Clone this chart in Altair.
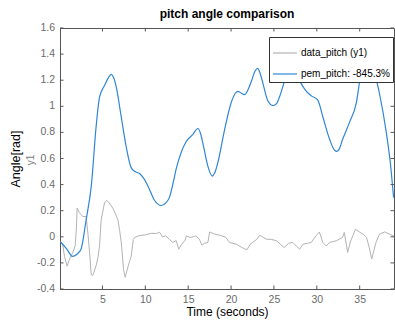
import altair as alt
import pandas as pd

# Measured pitch (gray) and model output (blue), time in seconds, angle in rad
data_t = [0.1, 0.35, 0.57, 0.88, 1.16, 1.54, 1.82, 1.95, 2.05, 2.32, 2.5, 2.7, 3.1, 3.3, 3.5,
          3.69, 3.88, 4.27, 4.5, 4.66, 4.85, 5.24, 5.5, 5.8, 6.2, 6.5, 6.8, 7.0, 7.2, 7.46,
          7.65, 7.96, 8.2, 8.35, 8.6, 8.74, 9.24, 10.0, 10.7, 11.3, 11.66, 12.0, 12.4, 12.8,
          13.2, 13.6, 13.9, 14.2, 14.6, 14.8, 15.2, 15.6, 15.9, 16.3, 16.6, 16.9, 17.3, 17.5,
          18.1, 18.7, 19.4, 19.8, 20.2, 20.6, 21.2, 21.85, 22.2, 22.5, 23.0, 23.3, 23.5, 24.1,
          24.7, 25.3, 25.8, 26.2, 26.7, 27.2, 27.6, 28.0, 28.4, 28.9, 29.35, 29.9, 30.3, 30.7,
          31.1, 31.5, 32.3, 33.0, 33.2, 33.6, 33.9, 34.2, 34.5, 35.0, 35.4, 35.8, 36.1, 36.4,
          36.9, 37.3, 37.9, 38.5, 38.95]
data_v = [-0.04, -0.05, -0.15, -0.225, -0.17, -0.12, -0.07, 0.05, 0.22, 0.185, 0.17, 0.155,
          0.155, 0.03, -0.12, -0.29, -0.295, -0.22, -0.15, -0.07, 0.13, 0.26, 0.28, 0.26, 0.22,
          0.18, 0.13, 0.05, -0.045, -0.25, -0.31, -0.235, -0.18, -0.15, -0.02, -0.005, 0.008,
          0.015, 0.027, 0.025, 0.035, 0.0, 0.008, -0.02, -0.043, -0.03, -0.095, -0.06, -0.03,
          0.007, -0.005, 0.0, 0.007, -0.018, -0.064, -0.05, -0.043, 0.037, 0.02, 0.012, -0.005,
          -0.043, -0.05, -0.056, -0.08, -0.1, -0.06, -0.043, -0.02, 0.01, 0.007, -0.018, -0.02,
          -0.03, -0.06, -0.082, -0.05, -0.043, -0.07, -0.095, -0.056, -0.05, -0.043, 0.007,
          0.037, -0.043, -0.07, -0.043, -0.03, -0.005, 0.033, -0.12, -0.04, 0.007, 0.058, 0.035,
          0.02, -0.005, -0.08, -0.17, -0.043, 0.02, 0.037, 0.02, 0.007]

pem_t = [0.1, 0.8, 1.5, 2.0, 2.5, 3.1, 3.7, 4.27, 4.66, 5.24, 5.7, 6.02, 6.3, 6.6, 7.19, 7.77,
         8.35, 8.8, 9.32, 9.8, 10.3, 11.07, 11.85, 12.4, 12.8, 13.3, 13.6, 14.2, 14.77, 15.55,
         16.13, 16.45, 16.7, 17.3, 17.8, 18.1, 18.46, 19.24, 20.0, 20.5, 20.8, 21.2, 21.57,
         22.0, 22.36, 22.8, 23.1, 23.4, 23.7, 24.3, 24.9, 25.3, 25.66, 26.4, 26.8, 27.2, 27.5,
         27.8, 28.6, 29.36, 30.1, 30.7, 31.5, 32.0, 32.3, 32.6, 33.0, 33.8, 34.6, 35.2, 35.8,
         36.4, 37.3, 38.1, 38.6, 38.95]
pem_v = [-0.04, -0.09, -0.15, -0.135, -0.095, 0.13, 0.39, 0.85, 1.07, 1.16, 1.22, 1.245, 1.22,
         1.15, 0.92, 0.69, 0.53, 0.5, 0.485, 0.45, 0.39, 0.28, 0.24, 0.26, 0.3, 0.43, 0.52,
         0.65, 0.73, 0.785, 0.83, 0.79, 0.72, 0.54, 0.465, 0.49, 0.57, 0.82, 1.025, 1.1, 1.115,
         1.1, 1.09, 1.13, 1.19, 1.27, 1.29, 1.25, 1.18, 1.04, 1.005, 1.02, 1.075, 1.23, 1.305,
         1.34, 1.3, 1.23, 1.13, 1.08, 1.05, 0.92, 0.745, 0.67, 0.655, 0.67, 0.745, 0.875, 1.025,
         1.28, 1.43, 1.33, 1.1, 0.8, 0.55, 0.3]

series_names = ["data_pitch (y1)", "pem_pitch: -845.3%"]
series_colors = ["#b3b3b3", "#2f86d6"]

x_ticks = [5, 10, 15, 20, 25, 30, 35]
y_ticks = [-0.4, -0.2, 0, 0.2, 0.4, 0.6, 0.8, 1.0, 1.2, 1.4, 1.6]
y_tick_labels = ["-0.4", "-0.2", "0", "0.2", "0.4", "0.6", "0.8", "1", "1.2", "1.4", "1.6"]

W, H = 334, 261
TICK = 3.5
AXIS_GRAY = "#555555"
LABEL_GRAY = "#6b6b6b"
FONT = "Liberation Sans"

df_data = pd.DataFrame({"t": data_t, "v": data_v, "series": series_names[0]})
df_pem = pd.DataFrame({"t": pem_t, "v": pem_v, "series": series_names[1]})
df_xt = pd.DataFrame({"tick": x_ticks})
df_yt = pd.DataFrame({"tick": y_ticks, "label": y_tick_labels})

x_scale = alt.Scale(domain=[0.05, 39], nice=False, zero=False)
y_scale = alt.Scale(domain=[-0.4, 1.6], nice=False, zero=False)
color = alt.Color(
    "series:N",
    scale=alt.Scale(domain=series_names, range=series_colors),
    legend=alt.Legend(
        title=None, orient="none", legendX=209, legendY=9,
        symbolType="stroke", symbolSize=576, symbolStrokeWidth=1.2,
        labelFont=FONT, labelFontSize=10, labelColor="black", labelLimit=300,
        labelOffset=3, strokeColor="#333333", fillColor="white",
        padding=3, rowPadding=3, cornerRadius=0,
    ),
)

x_enc = alt.X(
    "t:Q", scale=x_scale,
    axis=alt.Axis(
        title="Time (seconds)", values=x_ticks, ticks=False, grid=False,
        labelFont=FONT, labelFontSize=10.5, labelColor=LABEL_GRAY, labelPadding=5,
        titleFont=FONT, titleFontSize=12, titleFontWeight="normal", titleColor="black",
        titlePadding=2, domainColor=AXIS_GRAY,
    ),
)
y_enc = alt.Y(
    "v:Q", scale=y_scale,
    axis=alt.Axis(
        title="Angle[rad]", values=y_ticks, ticks=False, grid=False, labels=False,
        titleFont=FONT, titleFontSize=12.5, titleFontWeight="normal", titleColor="black",
        titlePadding=38, domainColor=AXIS_GRAY,
    ),
)

gray_line = alt.Chart(df_data).mark_line(strokeWidth=1, clip=True).encode(
    x=x_enc, y=y_enc, color=color
)
blue_line = alt.Chart(df_pem).mark_line(strokeWidth=1.2, interpolate="monotone", clip=True).encode(
    x=alt.X("t:Q", scale=x_scale), y=alt.Y("v:Q", scale=y_scale), color=color
)

# Inward-pointing tick marks on all four sides
tick_style = dict(color=AXIS_GRAY, strokeWidth=1)
xt_bottom = alt.Chart(df_xt).mark_rule(**tick_style).encode(
    x=alt.X("tick:Q", scale=x_scale), y=alt.value(H), y2=alt.value(H - TICK)
)
xt_top = alt.Chart(df_xt).mark_rule(**tick_style).encode(
    x=alt.X("tick:Q", scale=x_scale), y=alt.value(0), y2=alt.value(TICK)
)
yt_left = alt.Chart(df_yt).mark_rule(**tick_style).encode(
    y=alt.Y("tick:Q", scale=y_scale), x=alt.value(0), x2=alt.value(TICK)
)
yt_right = alt.Chart(df_yt).mark_rule(**tick_style).encode(
    y=alt.Y("tick:Q", scale=y_scale), x=alt.value(W), x2=alt.value(W - TICK)
)

# Y tick labels, right-aligned left of the axis
yt_labels = alt.Chart(df_yt).mark_text(
    font=FONT, fontSize=10.5, color=LABEL_GRAY, align="right", baseline="middle"
).encode(y=alt.Y("tick:Q", scale=y_scale), x=alt.value(-5), text="label:N")

# Secondary "y1" caption next to the y-axis title
y1_label = alt.Chart(pd.DataFrame({"k": [0]})).mark_text(
    angle=270, font=FONT, fontSize=10, color="#808080", baseline="middle", align="center"
).encode(x=alt.value(-29), y=alt.value(H / 2 + 1.5), text=alt.value("y1"))

chart = alt.layer(
    gray_line, blue_line, xt_bottom, xt_top, yt_left, yt_right, yt_labels, y1_label
).properties(
    width=W, height=H,
    title=alt.Title("pitch angle comparison", font=FONT, fontSize=12, fontWeight="bold",
                    color="black", anchor="middle", offset=2),
    autosize=alt.AutoSizeParams(type="none"),
    padding={"left": 60, "top": 28, "right": 1, "bottom": 33},
).configure_view(stroke=AXIS_GRAY, strokeWidth=1)

chart.save("out.html", embed_options={"renderer": "svg", "actions": False})
